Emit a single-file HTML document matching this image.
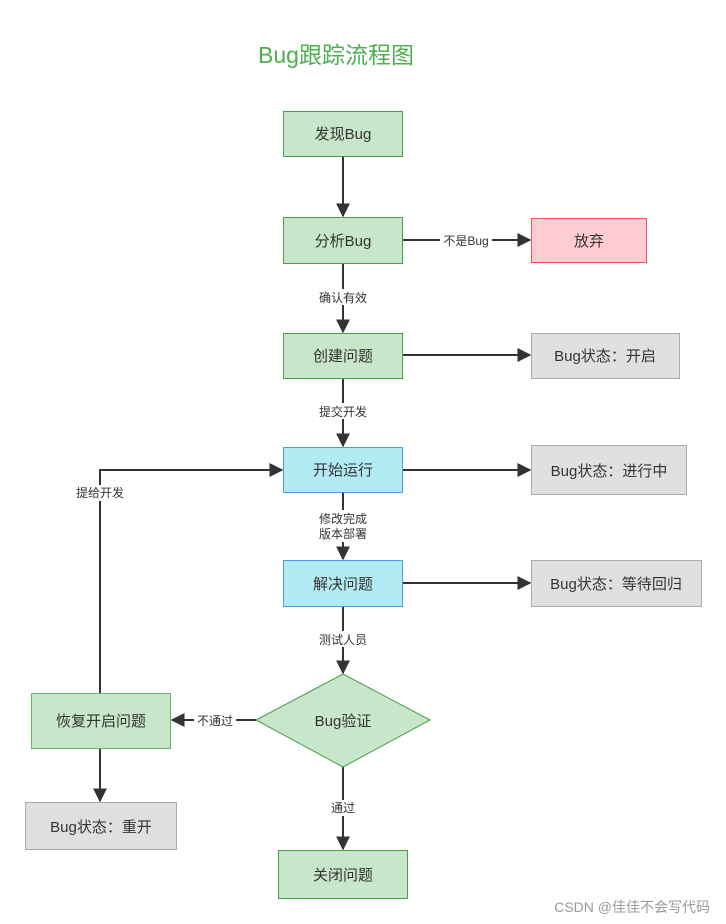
<!DOCTYPE html>
<html><head><meta charset="utf-8"><style>
html,body{margin:0;padding:0;background:#fff;}
svg{display:block;font-family:"Liberation Sans","Noto Sans CJK SC",sans-serif;}
</style></head><body>
<svg width="726" height="924" viewBox="0 0 726 924" xmlns="http://www.w3.org/2000/svg">
<defs>
<marker id="b" viewBox="0 0 10 10" refX="9" refY="5" markerWidth="14" markerHeight="14" markerUnits="userSpaceOnUse" orient="auto"><path d="M0,0L10,5L0,10z" fill="#333"/></marker></defs>
<text x="336" y="63" text-anchor="middle" font-size="23" fill="#4caf50">Bug跟踪流程图</text>
<g stroke="#333" stroke-width="2" fill="none">
<line x1="343" y1="156" x2="343" y2="216" marker-end="url(#b)"/>
<line x1="403" y1="240" x2="530" y2="240" marker-end="url(#b)"/>
<line x1="343" y1="264" x2="343" y2="332" marker-end="url(#b)"/>
<line x1="403" y1="355" x2="530" y2="355" marker-end="url(#b)"/>
<line x1="343" y1="378" x2="343" y2="446" marker-end="url(#b)"/>
<line x1="403" y1="470" x2="530" y2="470" marker-end="url(#b)"/>
<line x1="343" y1="492" x2="343" y2="559" marker-end="url(#b)"/>
<line x1="403" y1="583" x2="530" y2="583" marker-end="url(#b)"/>
<line x1="343" y1="606" x2="343" y2="673" marker-end="url(#b)"/>
<line x1="256" y1="720" x2="172" y2="720" marker-end="url(#b)"/>
<line x1="343" y1="767" x2="343" y2="849" marker-end="url(#b)"/>
<line x1="100" y1="748" x2="100" y2="801" marker-end="url(#b)"/>
<polyline points="100,693 100,470 282,470" marker-end="url(#b)"/>
</g>
<g font-size="12" fill="#333" text-anchor="middle">
<rect x="440" y="232" width="52" height="16" fill="#fff"/><text x="466" y="245">不是Bug</text>
<rect x="315" y="289" width="56" height="16" fill="#fff"/><text x="343" y="302">确认有效</text>
<rect x="315" y="403" width="56" height="16" fill="#fff"/><text x="343" y="416">提交开发</text>
<rect x="315" y="510" width="56" height="32" fill="#fff"/><text x="343" y="523">修改完成</text><text x="343" y="538">版本部署</text>
<rect x="315" y="631" width="56" height="16" fill="#fff"/><text x="343" y="644">测试人员</text>
<rect x="194" y="712" width="42" height="16" fill="#fff"/><text x="215" y="725">不通过</text>
<rect x="72" y="485" width="56" height="16" fill="#fff"/><text x="100" y="497">提给开发</text>
<rect x="328" y="800" width="30" height="16" fill="#fff"/><text x="343" y="812">通过</text>
</g>
<g font-size="15" fill="#333" text-anchor="middle">
<rect x="283.5" y="111.5" width="119" height="45" fill="#c8e6c9" stroke="#4a9e4a"/><text x="343" y="139">发现Bug</text>
<rect x="283.5" y="217.5" width="119" height="46" fill="#c8e6c9" stroke="#4a9e4a"/><text x="343" y="246">分析Bug</text>
<rect x="531.5" y="218.5" width="115" height="44" fill="#ffccd2" stroke="#f05050"/><text x="589" y="246">放弃</text>
<rect x="283.5" y="333.5" width="119" height="45" fill="#c8e6c9" stroke="#4a9e4a"/><text x="343" y="361">创建问题</text>
<rect x="531.5" y="333.5" width="148" height="45" fill="#e0e0e0" stroke="#aaa"/><text x="605" y="361">Bug状态：开启</text>
<rect x="283.5" y="447.5" width="119" height="45" fill="#b3ebf5" stroke="#4a9be8"/><text x="343" y="475">开始运行</text>
<rect x="531.5" y="445.5" width="155" height="49" fill="#e0e0e0" stroke="#aaa"/><text x="609" y="476">Bug状态：进行中</text>
<rect x="283.5" y="560.5" width="119" height="46" fill="#b3ebf5" stroke="#4a9be8"/><text x="343" y="589">解决问题</text>
<rect x="531.5" y="560.5" width="170" height="46" fill="#e0e0e0" stroke="#aaa"/><text x="616" y="589">Bug状态：等待回归</text>
<polygon points="343,674 430,720 343,767 256,720" fill="#c8e6c9" stroke="#4a9e4a"/><text x="343" y="726">Bug验证</text>
<rect x="31.5" y="693.5" width="139" height="55" fill="#c8e6c9" stroke="#6ab36a"/><text x="101" y="726">恢复开启问题</text>
<rect x="25.5" y="802.5" width="151" height="47" fill="#e0e0e0" stroke="#aaa"/><text x="101" y="832">Bug状态：重开</text>
<rect x="278.5" y="850.5" width="129" height="48" fill="#c8e6c9" stroke="#4a9e4a"/><text x="343" y="880">关闭问题</text>
</g>
<text x="710" y="912" text-anchor="end" font-size="14" fill="#999">CSDN @佳佳不会写代码</text>
</svg>
</body></html>
